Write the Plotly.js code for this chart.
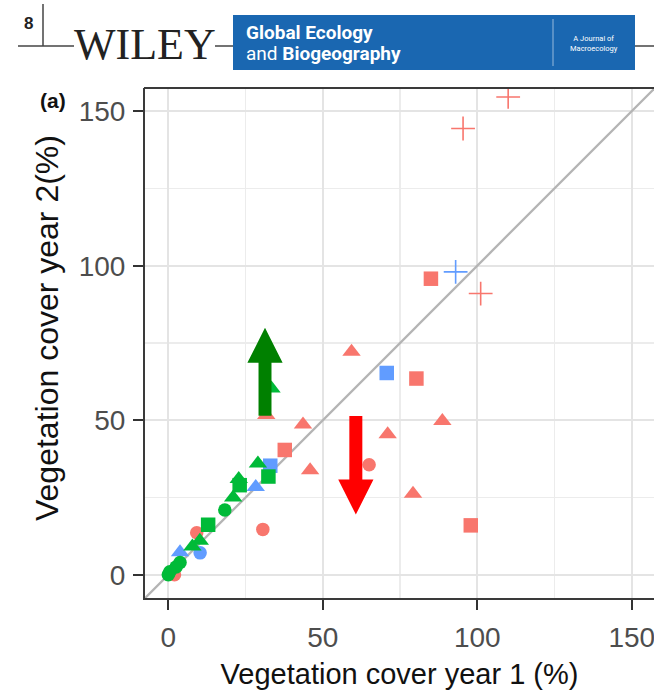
<!DOCTYPE html>
<html><head><meta charset="utf-8">
<script src="https://cdn.plot.ly/plotly-3.0.1.min.js"></script>
<style>html,body{margin:0;padding:0;background:#fff}#chart{width:654px;height:694px}</style>
</head><body><div id="chart"></div>
<script>
// ---------- data ----------
const groupNames = ['Group 1', 'Group 2', 'Group 3'];
const groupColors = ['#F8766D', '#619CFF', '#00BA38'];

const redX     = [110, 95.4, 101.1, 85, 80.3, 97.9, 37.7, 59.3, 43.6, 71.0, 88.7, 45.9, 79.2, 31.7, 65.0, 30.6, 9.2, 2.0];
const redY     = [154.6, 144.4, 91.0, 95.8, 63.5, 16.0, 40.4, 72.2, 48.6, 45.5, 49.8, 33.8, 26.2, 51.7, 35.6, 14.7, 13.6, 0.0];
const redShape = ['plus','plus','plus','square','square','square','square','triangle','triangle','triangle','triangle','triangle','triangle','triangle','circle','circle','circle','circle'];

const blueX     = [93.0, 70.7, 33.0, 10.3, 28.3, 3.8];
const blueY     = [98.0, 65.3, 35.3, 7.1, 28.4, 7.3];
const blueShape = ['plus','square','square','circle','triangle','triangle'];

const greenX     = [33.4, 29.0, 32.4, 22.8, 23.1, 21.0, 18.3, 12.9, 10.2, 7.8, 3.8, 2.5, 0.5, 0.0];
const greenY     = [60.3, 36.0, 31.8, 31.0, 29.0, 25.0, 21.0, 16.2, 11.0, 9.2, 4.0, 2.5, 1.0, 0.0];
const greenShape = ['triangle','triangle','square','triangle','square','triangle','circle','square','triangle','triangle','circle','circle','circle','circle'];

const xTickVals = [0, 50, 100, 150];
const yTickVals = [0, 50, 100, 150];
const xTitle = 'Vegetation cover year 1 (%)';
const yTitle = 'Vegetation cover year 2(%)';
const panelLabel = '(a)';

// arrows: [x, tail y, head-base y, tip y]
const arrowUp   = [31.3, 51.5, 68.6, 79.9];
const arrowDown = [60.7, 51.4, 30.8, 19.5];

// ---------- drawing ----------
const symbolOf = {circle: 'circle', triangle: 'triangle-up', square: 'square', plus: 'cross-thin-open'};
const sizeOf   = {circle: 13.5, triangle: 16, square: 14.5, plus: 17};

const groups = [[redX, redY, redShape], [blueX, blueY, blueShape], [greenX, greenY, greenShape]];
const xRange = [-7.54, 157.2];
const yRange = [-7.5, 157.5];

const traces = [{
  x: [-20, 200], y: [-20, 200], mode: 'lines', type: 'scatter',
  line: {color: '#b4b4b4', width: 2.3}, hoverinfo: 'skip', showlegend: false
}];
groups.forEach(([gx, gy, gs], gi) => {
  ['circle', 'triangle', 'square', 'plus'].forEach(shape => {
    const idx = gs.map((s, i) => s === shape ? i : -1).filter(i => i >= 0);
    if (!idx.length) return;
    const open = shape === 'plus';
    traces.push({
      type: 'scatter', mode: 'markers', name: groupNames[gi] + ' ' + shape,
      x: idx.map(i => gx[i]), y: idx.map(i => gy[i]), showlegend: false,
      marker: {
        symbol: symbolOf[shape], size: sizeOf[shape], color: groupColors[gi],
        line: {color: groupColors[gi], width: open ? 1.6 : 0}
      }
    });
  });
});

// pixel -> paper helper (plot area 145..654 x 88..598)
const L = 145, T = 88, W = 509, H = 510;
const px = v => (v - L) / W;
const py = v => (T + H - v) / H;

function arrowPath(a, hwShaft, hwHead) {
  const [x, y0, yb, yt] = a;
  return `M${x - hwShaft},${y0} L${x - hwShaft},${yb} L${x - hwHead},${yb} L${x},${yt} L${x + hwHead},${yb} L${x + hwShaft},${yb} L${x + hwShaft},${y0} Z`;
}

const hline = (x0, x1, y, w, c) => ({type: 'line', xref: 'paper', yref: 'paper', x0: px(x0), x1: px(x1), y0: py(y), y1: py(y), line: {color: c || '#333', width: w || 1.5}});
const vline = (x, y0, y1, w, c) => ({type: 'line', xref: 'paper', yref: 'paper', x0: px(x), x1: px(x), y0: py(y0), y1: py(y1), line: {color: c || '#333', width: w || 1.5}});

const shapes = [
  // panel top border
  {type: 'line', xref: 'paper', yref: 'paper', x0: -0.002, x1: 1.02, y0: 1, y1: 1, line: {color: '#3a3a3a', width: 2}},
  // arrows
  {type: 'path', xref: 'x', yref: 'y', path: arrowPath(arrowUp, 2.1, 5.7), fillcolor: '#008000', line: {width: 0}},
  {type: 'path', xref: 'x', yref: 'y', path: arrowPath(arrowDown, 2.1, 5.7), fillcolor: '#FF0000', line: {width: 0}},
  // header
  vline(43, 4, 46, 1.5, '#444'),
  hline(18, 74, 46, 1.5, '#444'),
  hline(215, 234, 46, 1.5, '#444'),
  hline(635, 660, 46, 1.5, '#444'),
  {type: 'rect', xref: 'paper', yref: 'paper', x0: px(233), x1: px(635), y0: py(70), y1: py(15), fillcolor: '#1a67b1', line: {width: 0}},
  vline(553, 19, 66, 1, 'rgba(255,255,255,0.55)')
];

const ann = (x, y, text, opts) => Object.assign({xref: 'paper', yref: 'paper', x: px(x), y: py(y), text: text, showarrow: false, xanchor: 'center', yanchor: 'middle'}, opts || {});

const annotations = [
  ann(28, 23, '<b>8</b>', {font: {family: 'Liberation Sans, Arial', size: 17, color: '#222'}}),
  ann(145, 44, 'WILEY', {font: {family: 'Liberation Serif, Times New Roman', size: 44, color: '#222'}}),
  ann(244, 33, '<b>Global Ecology</b>', {xanchor: 'left', font: {family: 'Liberation Sans Narrow, Roboto, Arial', size: 19, color: '#ffffff'}}),
  ann(244, 53, 'and <b>Biogeography</b>', {xanchor: 'left', font: {family: 'Liberation Sans Narrow, Roboto, Arial', size: 19, color: '#ffffff'}}),
  ann(594, 43, 'A Journal of<br>Macroecology', {font: {family: 'Liberation Sans Narrow, Roboto, Arial', size: 7.5, color: '#ffffff'}}),
  ann(53, 100, '<b>' + panelLabel + '</b>', {font: {family: 'Liberation Sans, Arial', size: 21, color: '#111'}}),
  // y-axis title (positioned as in the original, slightly above the panel centre)
  ann(47, 328, yTitle, {textangle: -90, font: {family: 'Liberation Sans, Arial', size: 32, color: '#111'}})
];

const axisCommon = {
  tickmode: 'array', ticks: 'outside', ticklen: 10, tickwidth: 2, tickcolor: '#333',
  showline: true, linecolor: '#3a3a3a', linewidth: 2,
  showgrid: true, gridcolor: '#e4e4e4', gridwidth: 2,
  minor: {tick0: 0, dtick: 25, showgrid: true, gridcolor: '#ececec', gridwidth: 1.5, ticks: ''},
  zeroline: false, automargin: false, ticklabeloverflow: 'allow',
  tickfont: {family: 'Liberation Sans, Arial', size: 28, color: '#4d4d4d'}
};

const layout = {
  width: 654, height: 694,
  margin: {l: L, r: 0, t: T, b: 694 - T - H, pad: 0},
  paper_bgcolor: '#ffffff', plot_bgcolor: '#ffffff',
  showlegend: false,
  xaxis: Object.assign({}, axisCommon, {range: xRange, tickvals: xTickVals, ticktext: xTickVals.map(String),
    ticklabelstandoff: 3,
    title: {text: xTitle, font: {family: 'Liberation Sans, Arial', size: 29, color: '#111'}, standoff: 12}}),
  yaxis: Object.assign({}, axisCommon, {range: yRange, tickvals: yTickVals, ticktext: yTickVals.map(String),
    ticklabelstandoff: 2}),
  shapes: shapes,
  annotations: annotations
};

Plotly.newPlot('chart', traces, layout, {displayModeBar: false, staticPlot: true});
</script>
</body></html>
